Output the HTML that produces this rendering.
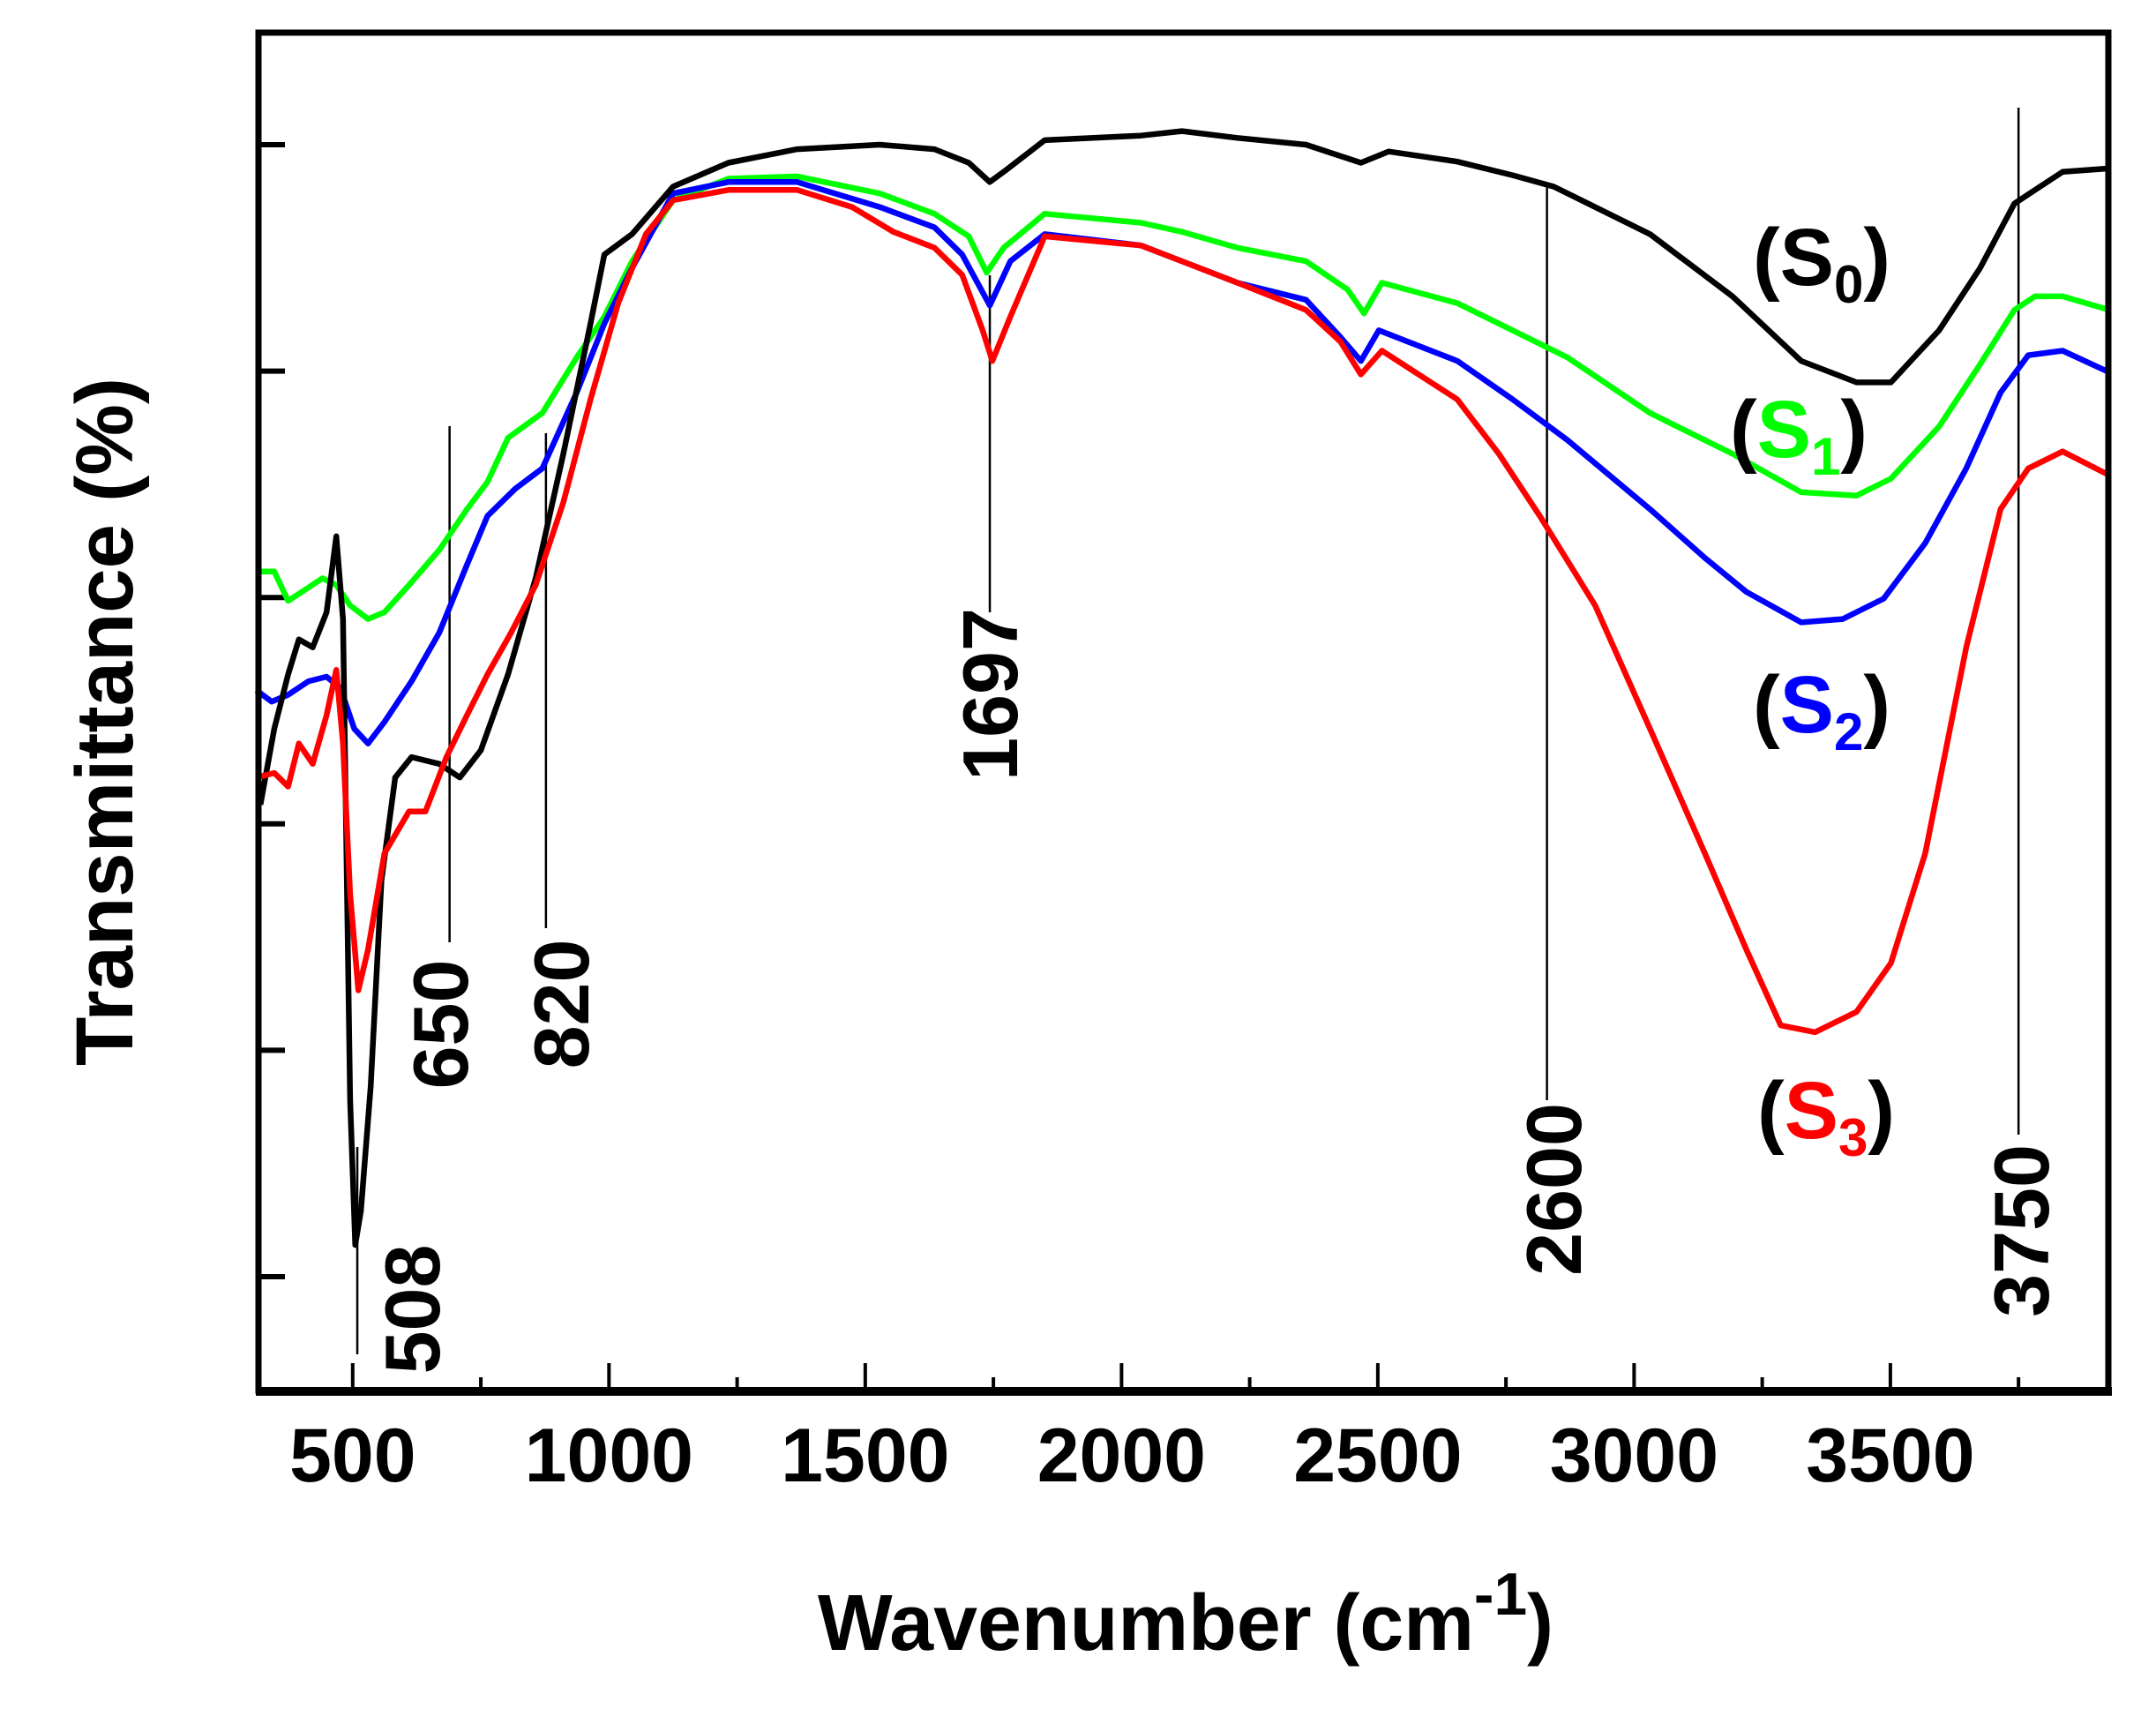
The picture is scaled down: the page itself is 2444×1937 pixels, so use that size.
<!DOCTYPE html>
<html><head><meta charset="utf-8"><style>
html,body{margin:0;padding:0;background:#fff}
svg{display:block}
text{font-family:"Liberation Sans",Arial,sans-serif;font-weight:bold;fill:#000}
</style></head><body>
<svg id="chart" width="2444" height="1937" viewBox="0 0 2444 1937" xmlns="http://www.w3.org/2000/svg">
<g id="plot"></g>
<rect x="293" y="37" width="2097" height="1539" fill="none" stroke="#000" stroke-width="7"/>
<line x1="290" x2="2394" y1="1577" y2="1577" stroke="#000" stroke-width="10"/>
<text transform="translate(150,818) rotate(-90)" text-anchor="middle" font-size="92" textLength="780" lengthAdjust="spacingAndGlyphs">Transmittance (%)</text>
<text x="927" y="1870" font-size="90" textLength="834" lengthAdjust="spacingAndGlyphs">Wavenumber (cm<tspan dy="-40" font-size="68">-1</tspan><tspan dy="40">)</tspan></text>
<text x="1987" y="323" font-size="92">(S<tspan font-size="60" dy="20">0</tspan><tspan dy="-20">)</tspan></text>
<text x="1961" y="518" font-size="92">(<tspan fill="#00ff00">S</tspan><tspan fill="#00ff00" font-size="60" dy="20">1</tspan><tspan dy="-20">)</tspan></text>
<text x="1987" y="830" font-size="92">(<tspan fill="#0000ff">S</tspan><tspan fill="#0000ff" font-size="60" dy="20">2</tspan><tspan dy="-20">)</tspan></text>
<text x="1992" y="1290" font-size="92">(<tspan fill="#ff0000">S</tspan><tspan fill="#ff0000" font-size="60" dy="20">3</tspan><tspan dy="-20">)</tspan></text>
</svg>
<script>
const xTicks=[500,1000,1500,2000,2500,3000,3500];
const xMinor=[750,1250,1750,2250,2750,3250,3750];
const yTicks=[0,20,40,60,80,100];
const s0W=[320,347,374,395,422,449,468,481,495,505,516,535,556,583,615,669,709,750,803,857,911,964,991,1045,1125,1233,1367,1528,1635,1702,1743,1770,1850,2038,2118,2226,2360,2467,2521,2655,2763,2843,3031,3192,3326,3434,3501,3595,3675,3742,3782,3836,3927];
const s0T=[41.7,48.4,53.2,56.3,55.6,58.7,65.4,58.1,15.6,2.8,5.8,16.8,35.0,44.1,45.9,45.3,44.1,46.5,53.2,61.7,72.7,84.2,90.3,92.1,96.3,98.4,99.6,100,99.6,98.4,96.7,97.6,100.4,100.8,101.2,100.6,100,98.4,99.4,98.5,97.3,96.3,92.1,86.6,80.9,79.0,79.0,83.6,89.1,94.8,96.0,97.6,97.9];
const s1W=[312,347,374,401,441,468,495,530,562,610,669,723,763,803,870,937,991,1045,1125,1233,1367,1528,1635,1702,1737,1770,1850,2038,2118,2226,2360,2441,2473,2508,2655,2763,2870,3031,3192,3326,3434,3501,3595,3675,3742,3782,3836,3927];
const s1T=[62.3,62.3,59.7,60.5,61.7,61.1,59.3,58.1,58.7,61.1,64.2,67.8,70.2,74.1,76.3,81.2,84.8,89.7,95.1,97.0,97.2,95.7,93.9,91.9,88.7,90.9,93.9,93.1,92.3,90.9,89.7,87.2,85.1,87.8,86.0,83.6,81.2,76.3,72.7,69.3,69.0,70.5,75.1,80.6,85.4,86.6,86.6,85.4];
const s2W=[312,342,374,414,449,476,503,530,562,615,669,723,763,817,870,937,991,1045,1125,1233,1367,1528,1635,1689,1743,1783,1850,2038,2118,2226,2360,2427,2467,2502,2655,2763,2870,3031,3138,3219,3326,3407,3487,3568,3648,3715,3769,3836,3927];
const s2T=[51.8,50.8,51.4,52.6,53.0,52.0,48.4,47.1,49.0,52.6,56.9,62.9,67.2,69.6,71.4,78.1,84.2,89.1,95.7,96.7,96.7,94.5,92.7,90.3,85.8,89.7,92.1,91.1,89.7,87.8,86.3,83.0,80.9,83.6,80.9,77.5,73.9,67.8,63.5,60.5,57.8,58.1,59.9,64.8,71.4,78.1,81.4,81.8,79.9];
const s3W=[312,347,374,395,422,449,468,481,495,511,530,562,610,642,683,723,763,809,857,911,964,1018,1072,1125,1233,1367,1474,1555,1635,1689,1729,1748,1783,1850,2038,2118,2226,2360,2427,2467,2508,2655,2736,2816,2924,3031,3138,3219,3286,3353,3434,3501,3568,3648,3715,3769,3836,3927];
const s3T=[44.1,44.5,43.3,47.1,45.3,49.6,53.6,47.1,33.8,25.3,28.9,37.4,41.1,41.1,45.9,49.6,53.2,56.9,61.1,68.4,77.5,86.0,92.1,95.1,96.0,96.0,94.5,92.3,90.9,88.5,83.6,80.9,84.8,91.9,91.1,89.7,87.8,85.4,82.6,79.7,81.8,77.5,72.7,67.2,59.3,48.4,37.4,28.9,22.2,21.6,23.4,27.7,37.4,55.6,67.8,71.4,72.9,70.8];
const annoW=[508,650,820,1697,2600,3750];
const annoX=[509,689,877,1743,2830,3750];

const NS="http://www.w3.org/2000/svg";
const X0=290,X1=2391,W0=311,W1=3927;
function sx(w){return X0+(w-W0)*(X1-X0)/(W1-W0);}
function sy(v){return 1447-v*(1447-164)/100;}
const g=document.getElementById('plot');
function mk(tag,attrs){const e=document.createElementNS(NS,tag);for(const k in attrs)e.setAttribute(k,attrs[k]);g.appendChild(e);return e;}

xTicks.forEach(t=>{
 const l=mk('line',{x1:sx(t),x2:sx(t),y1:1576,y2:1545,stroke:'#000','stroke-width':4});
 
 
 const tx=mk('text',{x:sx(t),y:1679,'text-anchor':'middle','font-size':86});
 
 
 tx.textContent=t;
});
xMinor.forEach(t=>{
 const l=mk('line',{x1:sx(t),x2:sx(t),y1:1576,y2:1561,stroke:'#000','stroke-width':4});
 
 
});
yTicks.forEach(t=>{
 const l=mk('line',{x1:293,x2:323,y1:sy(t),y2:sy(t),stroke:'#000','stroke-width':6});
 
 
});
const annoY=[[1300,1535],[483,1068],[491,1052],[312,694],[210,1247],[122,1286]];
const labY=[1484,1161,1138,787,1348,1395];
annoW.forEach((a,i)=>{
 const x=sx(annoX[i]);
 const l=mk('line',{x1:x,x2:x,y1:annoY[i][0],y2:annoY[i][1],stroke:'#000','stroke-width':2.5});
 
 
});
function series(W,T,color,name){
 const d=W.map((w,i)=>(i?'L':'M')+sx(w).toFixed(1)+','+sy(T[i]).toFixed(1)).join(' ');
 const p=mk('path',{d:d,fill:'none',stroke:color,'stroke-width':6.5,'stroke-linejoin':'round'});
 
 
}
series(s1W,s1T,'#00ff00','series-s1');
series(s2W,s2T,'#0000ff','series-s2');
series(s0W,s0T,'#000000','series-s0');
series(s3W,s3T,'#ff0000','series-s3');
const labX=[467,499,636,1122,1761,2291];
annoW.forEach((a,i)=>{
 const t=mk('text',{transform:'translate('+(labX[i]+31)+','+labY[i]+') rotate(-90)','text-anchor':'middle','font-size':88});
 
 
 t.textContent=a;
});
</script>
</body></html>
